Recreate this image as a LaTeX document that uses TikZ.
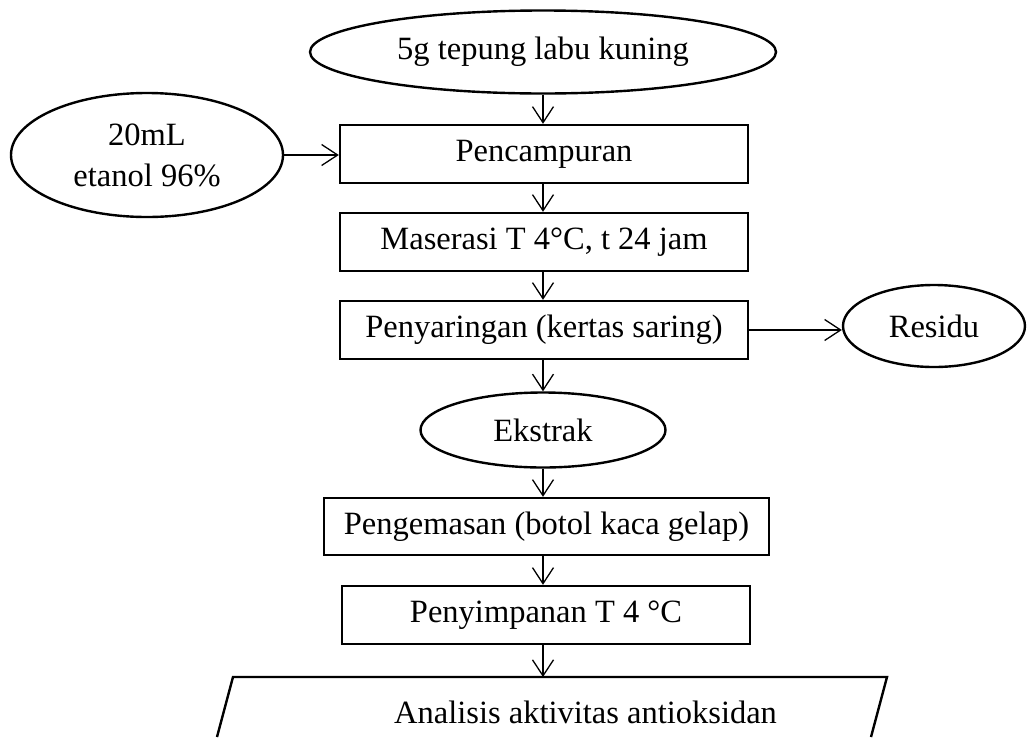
\documentclass[tikz,border=0pt]{standalone}
\usepackage{fontspec}
\setmainfont{Liberation Serif}
\usetikzlibrary{shapes.geometric,arrows.meta}
\begin{document}
\begin{tikzpicture}[x=1pt,y=-1pt,
  every node/.style={font=\fontsize{32.5}{41}\selectfont, inner sep=0pt},
  procbox/.style={draw, line width=2.4pt, rectangle, minimum height=58pt},
  oval/.style={draw, line width=2.4pt, ellipse},
  flow/.style={line width=1.3pt, -{Straight Barb[length=16pt,width=21pt,line width=1.3pt]}}]
\useasboundingbox (0,0) rectangle (1028,737);
\node[oval, minimum width=466pt, minimum height=83pt] (raw) at (543,52) {5g tepung labu kuning};
\node[oval, minimum width=272pt, minimum height=124pt, align=center] (eth) at (147,155) {20mL\\etanol 96\%};
\node[procbox, minimum width=408pt] (mix) at (544,154) {Pencampuran};
\node[procbox, minimum width=408pt] (mac) at (544,242) {Maserasi T 4°C, t 24 jam};
\node[procbox, minimum width=408pt] (filt) at (544,330) {Penyaringan (kertas saring)};
\node[oval, minimum width=182pt, minimum height=82pt] (res) at (934,326) {Residu};
\node[oval, minimum width=245pt, minimum height=75pt] (ext) at (543,430) {Ekstrak};
\node[procbox, minimum width=445pt, minimum height=57pt] (pack) at (546.5,526.5) {Pengemasan (botol kaca gelap)};
\node[procbox, minimum width=408pt] (store) at (546,615) {Penyimpanan T 4 °C};
\coordinate (pTL) at (233,677);
\coordinate (pTR) at (887,677);
\coordinate (pBL) at (217,737);
\coordinate (pBR) at (871,737);
\coordinate (pTop) at (544,677);
\draw[line width=2.4pt, line join=miter] (pBL) -- (pTL) -- (pTR) -- (pBR);
\node[anchor=west] (ana) at (394,712) {Analisis aktivitas antioksidan};
\draw[flow] (raw.south) -- (raw.south |- mix.north);
\draw[flow] (eth.east) -- (eth.east -| mix.west);
\draw[flow] (mix.south -| raw.south) -- (mac.north -| raw.south);
\draw[flow] (mac.south -| raw.south) -- (filt.north -| raw.south);
\draw[flow] (filt.south -| raw.south) -- (ext.north -| raw.south);
\draw[flow] (filt.east) -- (filt.east -| res.west);
\draw[flow] (ext.south -| raw.south) -- (pack.north -| raw.south);
\draw[flow] (pack.south -| raw.south) -- (store.north -| raw.south);
\draw[flow] (store.south -| raw.south) -- (pTop -| raw.south);
\end{tikzpicture}
\end{document}
